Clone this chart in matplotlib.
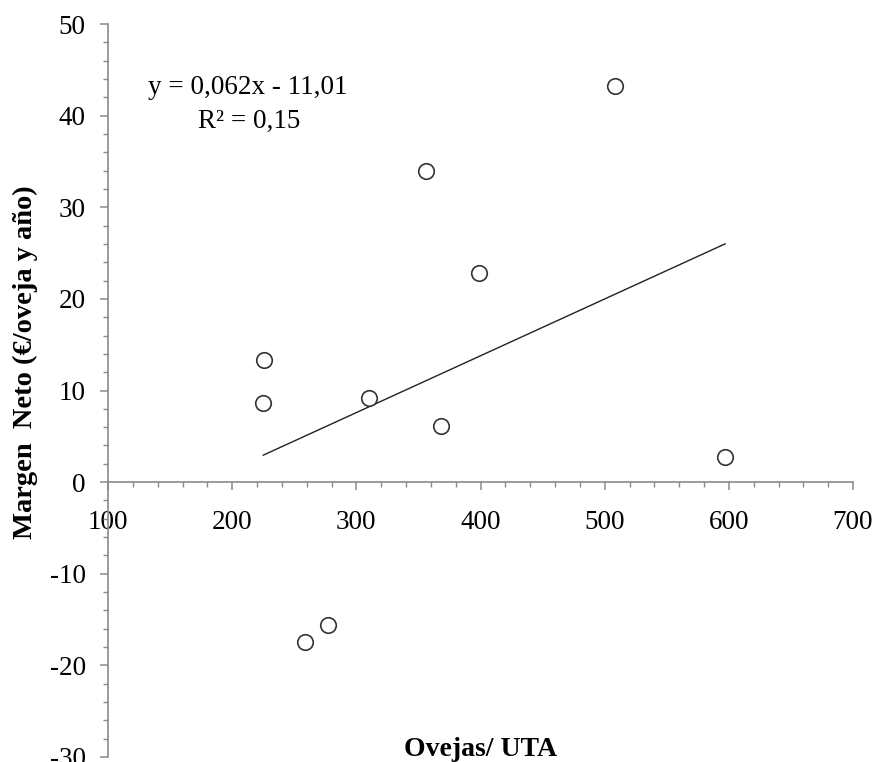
import matplotlib
matplotlib.use("Agg")
import matplotlib.pyplot as plt
from matplotlib.ticker import MultipleLocator

plt.rcParams['font.family'] = ['Liberation Serif', 'DejaVu Serif']
plt.rcParams['axes.unicode_minus'] = False

# Sheep per work unit vs. net margin per sheep
ovejas_uta = [225, 226, 310, 368, 356, 399, 508, 597, 259, 277]
margen_neto = [8.6, 13.3, 9.2, 6.1, 34.0, 22.8, 43.2, 2.7, -17.4, -15.6]

# Linear trend as reported
pendiente = 0.062
ordenada = -11.01
r2_texto = "R² = 0,15"
ecuacion_texto = "y = 0,062x - 11,01"

xlim = (100, 700)
ylim = (-30, 50)

fig = plt.figure(figsize=(8.75, 7.62), dpi=100)
ax = fig.add_axes([108/875, 1 - 757/762, (853 - 108)/875, (757 - 24)/762])

ax.scatter(ovejas_uta, margen_neto, s=125, facecolors='white',
           edgecolors='#333333', linewidths=1.2, zorder=3, clip_on=False)

x0, x1 = min(ovejas_uta), max(ovejas_uta)
ax.plot([x0, x1], [pendiente * x0 + ordenada, pendiente * x1 + ordenada],
        color='#222222', linewidth=1.0, zorder=2)

ax.set_xlim(*xlim)
ax.set_ylim(*ylim)

ax.spines['top'].set_visible(False)
ax.spines['right'].set_visible(False)
ax.spines['bottom'].set_position(('data', 0))
for s in ('left', 'bottom'):
    ax.spines[s].set_color('#8a8a8a')
    ax.spines[s].set_linewidth(1.2)

ax.xaxis.set_major_locator(MultipleLocator(100))
ax.xaxis.set_minor_locator(MultipleLocator(20))
ax.yaxis.set_major_locator(MultipleLocator(10))
ax.yaxis.set_minor_locator(MultipleLocator(2))

ax.tick_params(axis='both', which='major', direction='out', length=6,
               width=1.1, color='#8a8a8a', labelsize=19.5, labelcolor='black')
ax.tick_params(axis='both', which='minor', direction='out', length=3.6,
               width=1.0, color='#8a8a8a')
ax.tick_params(axis='x', which='major', pad=14)
ax.tick_params(axis='y', which='major', pad=10)

ax.text(248/875, 1 - 88/762, ecuacion_texto, transform=fig.transFigure,
        ha='center', va='center', fontsize=19.5)
ax.text(249/875, 1 - 121/762, r2_texto, transform=fig.transFigure,
        ha='center', va='center', fontsize=19.5)

fig.text(481/875, 1 - 749/762, "Ovejas/ UTA", ha='center', va='center',
         fontsize=20, fontweight='bold')
fig.text(25/875, 1 - 362/762, "Margen  Neto (€/oveja y año)", ha='center',
         va='center', rotation=90, fontsize=20.5, fontweight='bold')

fig.savefig("out.png", dpi=100, facecolor='white')
